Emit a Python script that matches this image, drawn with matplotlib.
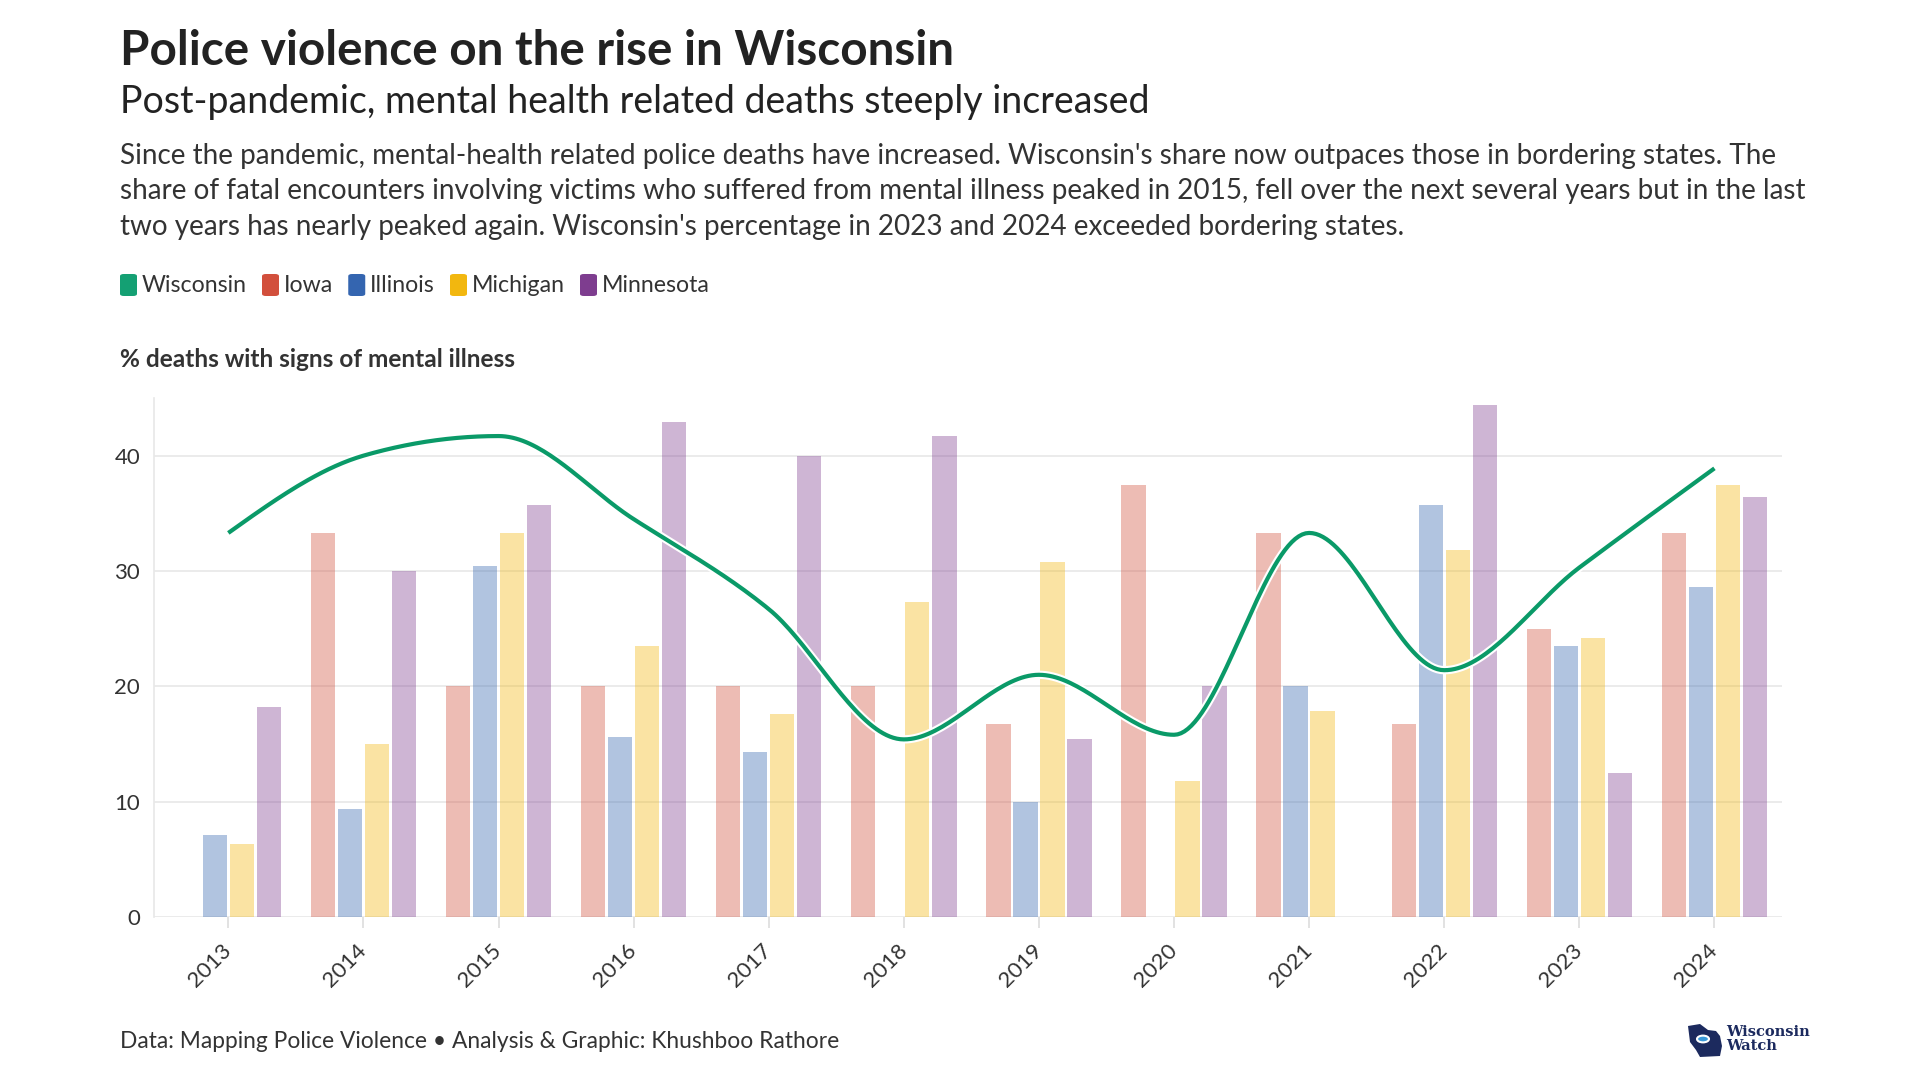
import numpy as np
import matplotlib.pyplot as plt
import matplotlib.patheffects as pe
from matplotlib.patches import FancyBboxPatch, Circle, Polygon

plt.rcParams['font.family'] = ['Lato', 'DejaVu Sans']

# datos (porcentaje de muertes con signos de enfermedad mental)
years = [2013, 2014, 2015, 2016, 2017, 2018, 2019, 2020, 2021, 2022, 2023, 2024]
wisconsin = [33.3, 40.0, 41.7, 34.5, 26.7, 15.4, 21.0, 15.8, 33.3, 21.4, 30.3, 38.9]
iowa = [np.nan, 33.3, 20.0, 20.0, 20.0, 20.0, 16.7, 37.5, 33.3, 16.7, 25.0, 33.3]
illinois = [7.1, 9.4, 30.4, 15.6, 14.3, np.nan, 10.0, np.nan, 20.0, 35.7, 23.5, 28.6]
michigan = [6.3, 15.0, 33.3, 23.5, 17.6, 27.3, 30.8, 11.8, 17.9, 31.8, 24.2, 37.5]
minnesota = [18.2, 30.0, 35.7, 42.9, 40.0, 41.7, 15.4, 20.0, np.nan, 44.4, 12.5, 36.4]

states = ['Wisconsin', 'Iowa', 'Illinois', 'Michigan', 'Minnesota']
colors = ['#14a073', '#d24f3c', '#3465b0', '#f2b70f', '#7e3d8f']
y_ticks = [0, 10, 20, 30, 40]

W, H = 1920, 1080


def fxy(x, y):
  # pixeles (desde arriba a la izquierda) a coordenadas de figura
  return x / W, 1 - y / H


def monotone_curve(xs, ys, steps=40):
  # igual que d3.curveMonotoneX
  xs = np.asarray(xs, dtype=float)
  ys = np.asarray(ys, dtype=float)
  h = np.diff(xs)
  s = np.diff(ys) / h
  m = np.zeros(len(xs))
  for i in range(1, len(xs) - 1):
    p = (s[i - 1] * h[i] + s[i] * h[i - 1]) / (h[i - 1] + h[i])
    m[i] = (np.sign(s[i - 1]) + np.sign(s[i])) * min(abs(s[i - 1]), abs(s[i]), 0.5 * abs(p))
  m[0] = (3 * s[0] - m[1]) / 2
  m[-1] = (3 * s[-1] - m[-2]) / 2

  t = np.linspace(0, 1, steps)
  b0 = (1 - t) ** 3
  b1 = 3 * t * (1 - t) ** 2
  b2 = 3 * t ** 2 * (1 - t)
  b3 = t ** 3
  px, py = [], []
  for i in range(len(h)):
    dx = h[i] / 3
    cx = [xs[i], xs[i] + dx, xs[i + 1] - dx, xs[i + 1]]
    cy = [ys[i], ys[i] + dx * m[i], ys[i + 1] - dx * m[i + 1], ys[i + 1]]
    px.extend(b0 * cx[0] + b1 * cx[1] + b2 * cx[2] + b3 * cx[3])
    py.extend(b0 * cy[0] + b1 * cy[1] + b2 * cy[2] + b3 * cy[3])
  return np.array(px), np.array(py)


fig = plt.figure(figsize=(19.2, 10.8), dpi=100)
fig.patch.set_facecolor('white')

# Encabezado
fig.text(*fxy(120, 65), 'Police violence on the rise in Wisconsin', fontsize=34.3, fontweight='bold',
         color='#222222', va='baseline')
fig.text(*fxy(120, 113), 'Post-pandemic, mental health related deaths steeply increased', fontsize=27,
         color='#222222', va='baseline')

desc = [
  "Since the pandemic, mental-health related police deaths have increased. Wisconsin's share now outpaces those in bordering states. The",
  "share of fatal encounters involving victims who suffered from mental illness peaked in 2015, fell over the next several years but in the last",
  "two years has nearly peaked again. Wisconsin's percentage in 2023 and 2024 exceeded bordering states.",
]
for i, line in enumerate(desc):
  fig.text(*fxy(120, 164 + i * 35.5), line, fontsize=20.1, color='#333333', va='baseline')

# Leyenda
fig.canvas.draw()
renderer = fig.canvas.get_renderer()
x = 120
for name, col in zip(states, colors):
  bx, by = fxy(x, 296)
  box = FancyBboxPatch((bx, by), 17 / W, 22 / H, boxstyle='round,pad=0,rounding_size=0.002',
                       transform=fig.transFigure, facecolor=col, edgecolor='none')
  fig.patches.append(box)
  t = fig.text(*fxy(x + 22, 285), name, fontsize=16.7, color='#333333', va='center')
  ext = t.get_window_extent(renderer)
  x = x + 22 + ext.width + 15

fig.text(*fxy(120, 360), '% deaths with signs of mental illness', fontsize=17.6, fontweight='bold',
         color='#333333', va='center')

# Grafico
ax = fig.add_axes([154 / W, (H - 917) / H, 1628 / W, 519 / H])
idx = np.arange(len(years))
offsets = [-0.3, -0.1, 0.1, 0.3]
for series, col, off in zip([iowa, illinois, michigan, minnesota], colors[1:], offsets):
  vals = np.array(series, dtype=float)
  ok = ~np.isnan(vals)
  ax.bar(idx[ok] + off, vals[ok], width=0.18, color=col, alpha=0.38, linewidth=0, zorder=2)

lx, ly = monotone_curve(idx, wisconsin)
ax.plot(lx, ly, color='#0a9a68', linewidth=3, solid_capstyle='butt', zorder=4,
        path_effects=[pe.Stroke(linewidth=6, foreground='white'), pe.Normal()])

ax.set_xlim(-0.55, 11.5)
ax.set_ylim(0, 45)
ax.set_yticks(y_ticks)
ax.set_xticks(idx)
ax.set_xticklabels([str(y) for y in years], rotation=45, ha='right', va='center',
                   rotation_mode='anchor')
ax.grid(axis='y', color='#e8e8e8', linewidth=1.2, zorder=0)
ax.set_axisbelow(True)
for side in ['top', 'right', 'bottom']:
  ax.spines[side].set_visible(False)
ax.spines['left'].set_color('#e8e8e8')
ax.spines['left'].set_linewidth(1.2)
ax.tick_params(axis='y', length=0, pad=10, labelsize=16, labelcolor='#333333')
ax.tick_params(axis='x', length=8, width=1.2, color='#dddddd', pad=14, labelsize=16, labelcolor='#333333')

# Pie
fig.text(*fxy(120, 1048), 'Data: Mapping Police Violence \u2022 Analysis & Graphic: Khushboo Rathore',
         fontsize=16.4, color='#333333', va='baseline')

# Logo Wisconsin Watch
navy = '#1c2a5e'
shape = [(1688, 1026), (1700, 1024), (1708, 1030), (1716, 1031), (1720, 1036), (1722, 1046),
         (1720, 1056), (1700, 1057), (1696, 1050), (1690, 1042)]
fig.patches.append(Polygon([fxy(px, py) for px, py in shape], closed=True, transform=fig.transFigure,
                           facecolor=navy, edgecolor='none'))
fig.patches.append(Circle(fxy(1703, 1039), 6 / W, transform=fig.transFigure, facecolor='#3a9ad9',
                          edgecolor='white', linewidth=1.5))
fig.text(*fxy(1726, 1036), 'Wisconsin', fontsize=10.5, fontweight='bold', family='DejaVu Serif',
         color=navy, va='baseline')
fig.text(*fxy(1726, 1050), 'Watch', fontsize=10.5, fontweight='bold', family='DejaVu Serif',
         color=navy, va='baseline')

fig.savefig('out.png', dpi=100, facecolor='white')
